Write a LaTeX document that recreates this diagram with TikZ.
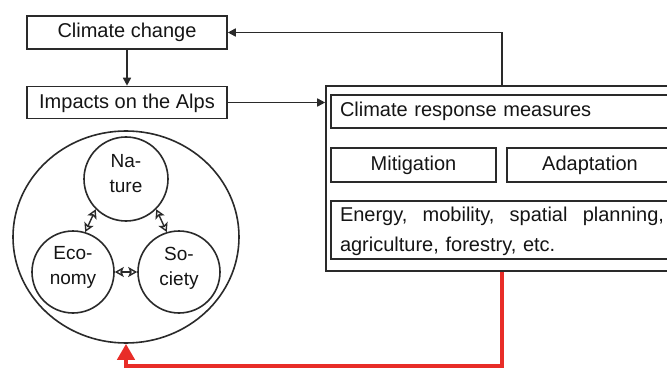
\documentclass[tikz,border=0pt]{standalone}
\usepackage{fontspec}
\setmainfont{Liberation Sans}
\usetikzlibrary{arrows.meta,shapes.geometric}
\definecolor{ln}{HTML}{2A2A2A}
\definecolor{tx}{HTML}{151515}
\definecolor{rd}{RGB}{232,45,40}
\newcommand\lowstrut[1]{\rule[-#1]{0pt}{#1}}
\begin{document}
\begin{tikzpicture}[x=1pt,y=-1pt,
  box/.style={draw=ln, line width=1.6pt, rectangle, inner sep=0pt,
    font=\fontsize{20}{24}\selectfont, text=tx},
  one/.style={text height=14pt, text depth=3pt},
  ring/.style={draw=ln, line width=1.6pt, circle, inner sep=0pt, align=center,
    font=\fontsize{19}{25}\selectfont, text=tx},
  arr/.style={draw=ln, line width=1.6pt, -{Triangle[length=8pt,width=8pt]}},
  dbl/.style={draw=ln, line width=1.4pt,
    {Stealth[open,length=9pt,width=10pt,inset=2pt]}-{Stealth[open,length=9pt,width=10pt,inset=2pt]}},
  redarr/.style={draw=rd, line width=4.5pt, -{Triangle[length=16pt,width=17pt]}}]
\path[use as bounding box, fill=white] (0,0) rectangle (667,369);
\clip (0,0) rectangle (667,369);

% left column
\node[box, one, minimum width=200pt, minimum height=33pt] (cc) at (127,32.5) {Climate change};
\node[box, one, minimum width=200pt, minimum height=32pt] (imp) at (127,102.5) {Impacts on the Alps};

% right block
\node[box, minimum width=352pt, minimum height=185pt] (out) at (502,178.5) {};
\node[box, one, minimum width=342pt, minimum height=33pt, text width=324pt,
  align=left, inner xsep=9pt] (crm) at (502,111.5) {Climate response measures};
\node[box, one, minimum width=165pt, minimum height=34pt] (mit) at (413.5,165) {Mitigation};
\node[box, one, minimum width=166pt, minimum height=34pt] (ada) at (590,165) {Adaptation};
\node[box, minimum width=342pt, minimum height=58pt, text width=324pt, align=left,
  inner xsep=9pt, font=\fontsize{20}{30}\selectfont] (en) at (502,230)
  {\rule{0pt}{18pt}Energy,\hfill mobility,\hfill spatial\hfill planning,\\agriculture, forestry, etc.};

% circles
\node[draw=ln, line width=1.6pt, ellipse, minimum width=226pt, minimum height=212pt] (big) at (126,237) {};
\node[ring, minimum size=84pt] (nat) at (126,179) {Na-\\ture\lowstrut{12pt}};
\node[ring, minimum size=82pt] (eco) at (73,272) {Eco-\\nomy\lowstrut{13pt}};
\node[ring, minimum size=82pt] (soc) at (179,272) {So-\\ciety\lowstrut{12pt}};

\draw[dbl] (nat.225) -- (eco.73);
\draw[dbl] (nat.-45) -- (soc.107);
\draw[dbl] (eco.east) -- (soc.west);

% connectors
\draw[arr] (cc.south) -- (imp.north);
\draw[arr] (imp.east) -- (imp.east -| out.west);
\draw[arr] (out.north) |- (cc.east);
\coordinate (rb) at (502,366);
\draw[redarr] (out.south) -- (rb) -| (big.south);
\end{tikzpicture}
\end{document}
